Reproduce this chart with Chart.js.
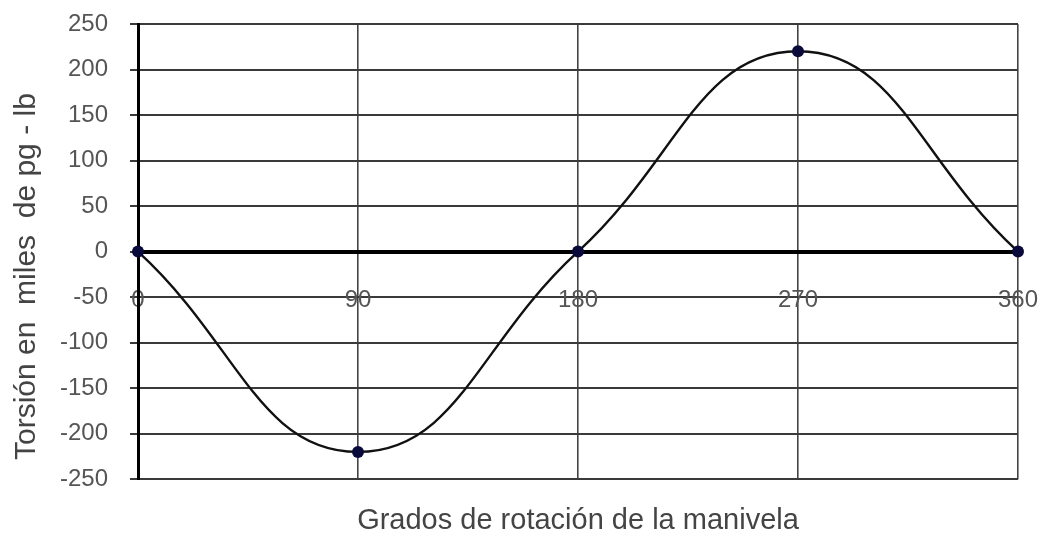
<!DOCTYPE html>
<html>
<head>
<meta charset="utf-8">
<script src="https://cdn.jsdelivr.net/npm/chart.js@4/dist/chart.umd.min.js"></script>
<style>
html,body{margin:0;padding:0;background:#fff;}
#wrap{width:1040px;height:538px;}
</style>
</head>
<body>
<div id="wrap"><canvas id="c" width="1040" height="538"></canvas></div>
<script>
const angles = [0, 90, 180, 270, 360];
const torque = [0, -220, 0, 220, 0];
const xTitle = 'Grados de rotación de la manivela';
const yTitle = 'Torsión en  miles  de pg - lb      ';

const points = angles.map((a, i) => ({x: a, y: torque[i]}));
const font = 'Liberation Sans, Arial, sans-serif';

new Chart(document.getElementById('c'), {
  type: 'line',
  data: {
    datasets: [{
      data: points,
      borderColor: '#111',
      borderWidth: 2.4,
      tension: 0.45,
      pointRadius: 6,
      pointBackgroundColor: '#0a0a3a',
      pointBorderColor: '#0a0a3a',
      pointBorderWidth: 0,
      clip: false
    }]
  },
  options: {
    responsive: false,
    animation: false,
    events: [],
    layout: {padding: {left: 0, right: 22, top: 24, bottom: 0}},
    plugins: {
      legend: {display: false},
      tooltip: {enabled: false},
      title: {
        display: true,
        text: xTitle,
        position: 'bottom',
        fullSize: false,
        color: '#444',
        font: {family: font, size: 29, weight: 'normal'},
        padding: {top: 24, bottom: 0}
      }
    },
    scales: {
      x: {
        type: 'linear',
        position: {y: 0},
        min: 0, max: 360,
        afterFit: s => { s.paddingLeft = 0; s.paddingRight = 0; },
        ticks: {stepSize: 90, color: '#555', padding: 34, font: {family: font, size: 24}},
        grid: {color: '#444', lineWidth: 1.6, drawTicks: false},
        border: {display: true, color: '#000', width: 4}
      },
      y: {
        min: -250, max: 250,
        afterFit: s => { s.width = 138; s.paddingTop = 0; s.paddingBottom = 0; },
        ticks: {stepSize: 50, color: '#555', padding: 22, font: {family: font, size: 24}},
        grid: {color: '#3a3a3a', lineWidth: 2, tickLength: 8},
        border: {display: true, color: '#000', width: 3},
        title: {
          display: true,
          text: yTitle,
          color: '#444',
          font: {family: font, size: 30, weight: 'normal'},
          padding: {top: 9, bottom: 0}
        }
      }
    }
  }
});
</script>
</body>
</html>
